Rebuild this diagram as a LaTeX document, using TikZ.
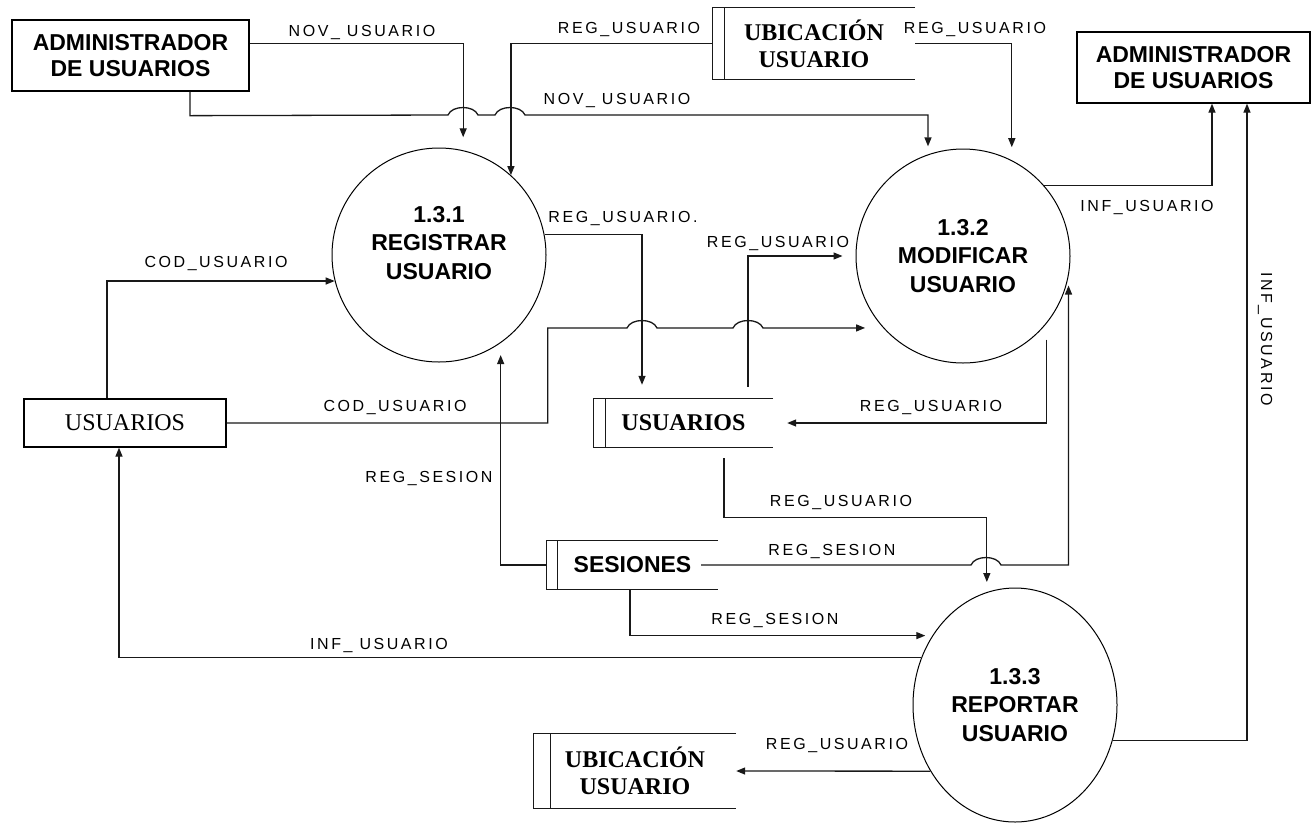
\documentclass[tikz,border=0pt]{standalone}
\usepackage{fontspec}
\setmainfont{Liberation Serif}
\newfontfamily\dfdsans{Liberation Sans}
\newfontfamily\dfdlabel[LetterSpace=16]{Liberation Sans}
\usetikzlibrary{arrows.meta,calc,shapes.geometric}

\tikzset{
  wire/.style={line width=1.3pt, draw=black!90},
  flow/.style={wire, -{Triangle[length=9pt,width=7pt]}},
  hop/.style args={#1/#2}{insert path={-- (#1-15,#2) .. controls (#1-11,#2-10) and (#1+11,#2-10) .. (#1+15,#2)}},
  entity/.style={draw, line width=1.3pt, inner sep=0pt, align=center,
    font=\dfdsans\bfseries\fontsize{23}{26}\selectfont},
  proctext/.style={inner sep=0pt, align=center,
    font=\dfdsans\bfseries\fontsize{23}{28.5}\selectfont},
  process/.style={proctext, draw, line width=1pt},
  storetext/.style={inner sep=0pt, align=center, font=\bfseries\fontsize{24}{27}\selectfont},
  flowlabel/.style={inner sep=0pt, font=\dfdlabel\fontsize{16}{19}\selectfont},
}

% open-ended data store: top, bottom and left edges plus the inner divider
\newcommand\dfdstore[2]{%
  \draw[wire] (#1.north east) -- (#1.north west) -- (#1.south west) -- (#1.south east);
  \draw[wire] ([xshift=#2pt]#1.north west) -- ([xshift=#2pt]#1.south west);}

\begin{document}
\begin{tikzpicture}[x=1pt,y=-1pt]
\fill[white] (0,0) rectangle (1312,823);
\useasboundingbox (0,0) rectangle (1312,823);

% external entities
\node[entity, minimum width=237pt, minimum height=71pt] (adminL) at (130.5,55.5) {ADMINISTRADOR\\DE USUARIOS};
\node[entity, minimum width=233pt, minimum height=71pt] (adminR) at (1193.5,67.5) {ADMINISTRADOR\\DE USUARIOS};
\node[draw, line width=1.3pt, inner sep=0pt, minimum width=202pt, minimum height=48pt,
      font=\fontsize{24}{27}\selectfont] (usuE) at (125,423) {USUARIOS};

% processes
\node[process, circle, minimum size=214pt] (c1) at (439,255) {};
\node[proctext] (c1t) at (439,243) {1.3.1\\REGISTRAR\\USUARIO};
\node[process, circle, minimum size=214pt] (c2) at (963,256) {1.3.2\\MODIFICAR\\USUARIO};
\node[process, ellipse, minimum width=204pt, minimum height=234pt] (c3) at (1015,705) {1.3.3\\REPORTAR\\USUARIO};

% data stores
\node[storetext, minimum width=202pt, minimum height=71pt] (ubiT) at (814,43.5) {UBICACIÓN\\USUARIO};
\node[storetext, minimum width=179pt, minimum height=48pt] (usuS) at (683.5,423) {USUARIOS};
\node[storetext, minimum width=171pt, minimum height=48pt, font=\dfdsans\bfseries\fontsize{23}{26}\selectfont] (ses) at (632.5,565) {SESIONES};
\node[storetext, minimum width=202pt, minimum height=74pt] (ubiB) at (635,771) {UBICACIÓN\\USUARIO};
\dfdstore{ubiT}{12}
\dfdstore{usuS}{12}
\dfdstore{ses}{11}
\dfdstore{ubiB}{17}

% flows
\draw[flow, shorten >=13pt] ($(adminL.north east)+(0,24)$) -| (c1.77);
\draw[flow, shorten >=8pt] ($(adminL.south)+(59.5,0)$) -- ($(adminL.south)+(59.5,24)$)
   [hop=463/115] [hop=510/115] -| (c2.109.7);
\draw[flow] (ubiT.west) -| (c1.48.4);
\draw[flow, shorten >=13pt] (ubiT.east) -| (c2.63.9);
\draw[flow] (c2.41.6) -| ($(adminR.south)+(18.5,0)$);
\draw[flow] (c3.-20.9) -| ($(adminR.south)+(53.5,0)$);
\draw[flow, shorten >=14pt] (c1.11.9) -| ($(usuS.north)+(-41.5,0)$);
\draw[flow, shorten >=13pt] ($(usuS.north)+(64.5,-12)$) |- (c2.west);
\draw[flow] ($(usuE.north)+(-18,0)$) |- (c1.194.1);
\draw[flow, shorten >=18pt] (usuE.east) -- ++(321,0) -- ++(0,-95)
   [hop=642/328] [hop=748/328] -- (c2.222.3);
\draw[flow, shorten <=16pt, shorten >=14pt] (c2.-39.1) |- (usuS.east);
\draw[flow, shorten >=12pt] (ses.west) -| (c1.-55.9);
\draw[flow, shorten >=9pt] ($(ses.east)+(-17,0)$) [hop=986/565] -| (c2.-11);
\draw[flow, shorten >=10pt] ($(usuS.south)+(40.5,11)$) -- ++(0,59) -| (c3.104.5);
\draw[flow, shorten >=7pt] ($(ses.south)+(-2.5,0)$) |- (c3.140.1);
\draw[flow] (c3.153.9) -| ($(usuE.south)+(-6,0)$);
\draw[flow] (c3.218.7) -- (ubiB.east);

% flow labels
\node[flowlabel] (lNov1) at (362,32) {NOV\_ USUARIO};
\node[flowlabel] (lNov2) at (617,100) {NOV\_ USUARIO};
\node[flowlabel] (lReg1) at (629,29) {REG\_USUARIO};
\node[flowlabel] (lReg2) at (975,29) {REG\_USUARIO};
\node[flowlabel] (lInf1) at (1147,207) {INF\_USUARIO};
\node[flowlabel, rotate=-90] (lInf2) at (1265,339) {INF\_USUARIO};
\node[flowlabel] (lRegDot) at (623,218) {REG\_USUARIO.};
\node[flowlabel] (lRegUs2) at (778,243) {REG\_USUARIO};
\node[flowlabel] (lCod1) at (216,263) {COD\_USUARIO};
\node[flowlabel] (lCod2) at (395,407) {COD\_USUARIO};
\node[flowlabel] (lRegC2) at (931,407) {REG\_USUARIO};
\node[flowlabel] (lSes1) at (429,478) {REG\_SESION};
\node[flowlabel] (lSes2) at (832,551) {REG\_SESION};
\node[flowlabel] (lRegUs3) at (841,502) {REG\_USUARIO};
\node[flowlabel] (lSes3) at (775,620) {REG\_SESION};
\node[flowlabel] (lInf3) at (379,645) {INF\_ USUARIO};
\node[flowlabel] (lRegC3) at (837,745) {REG\_USUARIO};
\end{tikzpicture}
\end{document}
